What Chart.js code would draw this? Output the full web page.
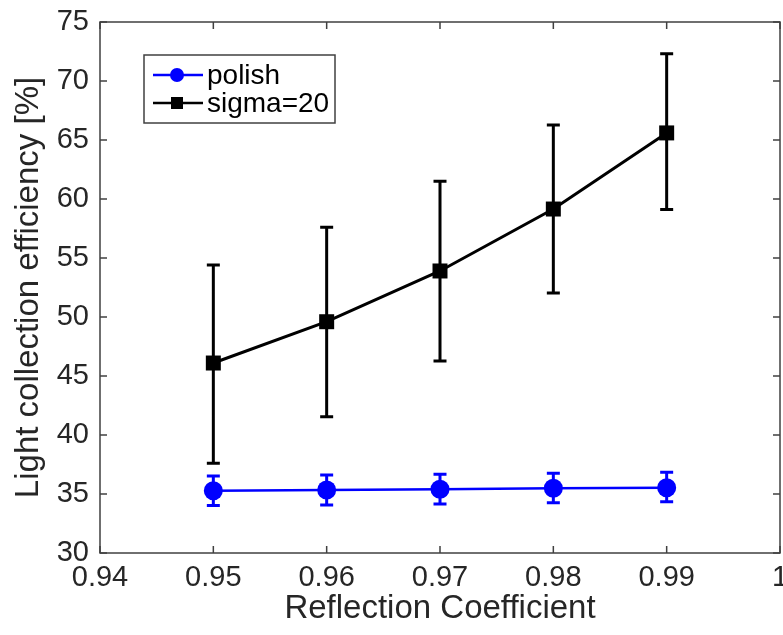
<!DOCTYPE html>
<html>
<head>
<meta charset="utf-8">
<script src="https://cdn.jsdelivr.net/npm/chart.js@4.4.0/dist/chart.umd.min.js"></script>
<style>
  html, body { margin: 0; padding: 0; background: #fff; }
  canvas { display: block; }
</style>
</head>
<body>
<canvas id="myChart" width="783" height="635"></canvas>
<script>
// values
var reflection = [0.95, 0.96, 0.97, 0.98, 0.99];
var polish = [35.28, 35.34, 35.40, 35.48, 35.53];
var polishLow = [34.03, 34.07, 34.15, 34.26, 34.35];
var polishHigh = [36.53, 36.61, 36.67, 36.75, 36.84];
var sigma20 = [46.1, 49.6, 53.9, 59.15, 65.6];
var sigma20Low = [37.6, 41.55, 46.27, 52.03, 59.1];
var sigma20High = [54.4, 57.6, 61.5, 66.27, 72.3];

var axisColor = '#404040';
var textColor = '#262626';
var fontFamily = "'Liberation Sans', Arial, Helvetica, sans-serif";

function toPoints(ys) {
  return reflection.map((x, i) => ({ x: x, y: ys[i] }));
}

// box round the plot with MATLAB style inward ticks
var frame = {
  id: 'frame',
  beforeDatasetsDraw(chart) {
    let ctx = chart.ctx;
    let a = chart.chartArea;
    let len = 7;
    ctx.save();
    ctx.strokeStyle = axisColor;
    ctx.lineWidth = 1.5;
    ctx.strokeRect(a.left, a.top, a.right - a.left, a.bottom - a.top);
    ctx.beginPath();
    chart.scales.x.ticks.forEach(t => {
      let px = chart.scales.x.getPixelForValue(t.value);
      ctx.moveTo(px, a.bottom); ctx.lineTo(px, a.bottom - len);
      ctx.moveTo(px, a.top); ctx.lineTo(px, a.top + len);
    });
    chart.scales.y.ticks.forEach(t => {
      let py = chart.scales.y.getPixelForValue(t.value);
      ctx.moveTo(a.left, py); ctx.lineTo(a.left + len, py);
      ctx.moveTo(a.right, py); ctx.lineTo(a.right - len, py);
    });
    ctx.stroke();
    ctx.restore();
  }
};

// vertical error bars with caps
var errorBars = {
  id: 'errorBars',
  beforeDatasetsDraw(chart) {
    let ctx = chart.ctx;
    let xs = chart.scales.x;
    let ys = chart.scales.y;
    chart.data.datasets.forEach(ds => {
      ctx.save();
      ctx.strokeStyle = ds.borderColor;
      ctx.lineWidth = 3;
      ctx.beginPath();
      ds.data.forEach((p, i) => {
        let x = xs.getPixelForValue(p.x);
        let y1 = ys.getPixelForValue(ds.low[i]);
        let y2 = ys.getPixelForValue(ds.high[i]);
        let cap = 6.5;
        ctx.moveTo(x, y1); ctx.lineTo(x, y2);
        ctx.moveTo(x - cap, y1); ctx.lineTo(x + cap, y1);
        ctx.moveTo(x - cap, y2); ctx.lineTo(x + cap, y2);
      });
      ctx.stroke();
      ctx.restore();
    });
  }
};

// legend box in the upper left of the plot
var boxLegend = {
  id: 'boxLegend',
  afterDraw(chart) {
    let ctx = chart.ctx;
    let left = 144, top = 55, w = 191, h = 68;
    ctx.save();
    ctx.fillStyle = '#fff';
    ctx.fillRect(left, top, w, h);
    ctx.strokeStyle = axisColor;
    ctx.lineWidth = 1.5;
    ctx.strokeRect(left, top, w, h);
    ctx.font = '28px ' + fontFamily;
    ctx.textBaseline = 'middle';
    chart.data.datasets.forEach((ds, i) => {
      let y = top + 20 + i * 28;
      ctx.strokeStyle = ds.borderColor;
      ctx.lineWidth = 2.5;
      ctx.beginPath();
      ctx.moveTo(153, y); ctx.lineTo(203, y);
      ctx.stroke();
      ctx.fillStyle = ds.borderColor;
      if (ds.pointStyle === 'circle') {
        ctx.beginPath();
        ctx.arc(177, y, 7, 0, Math.PI * 2);
        ctx.fill();
      } else {
        ctx.fillRect(171, y - 6, 12, 12);
      }
      ctx.fillStyle = '#000';
      ctx.fillText(ds.label, 207, y + 1);
    });
    ctx.restore();
  }
};

var ctx = document.getElementById('myChart').getContext('2d');

var chart = new Chart(ctx, {
  type: 'line',
  data: {
    datasets: [
      {
        label: 'polish',
        data: toPoints(polish),
        low: polishLow,
        high: polishHigh,
        borderColor: '#0000ff',
        backgroundColor: '#0000ff',
        borderWidth: 2.5,
        pointStyle: 'circle',
        pointRadius: 9.5,
        pointBorderWidth: 0,
        tension: 0
      },
      {
        label: 'sigma=20',
        data: toPoints(sigma20),
        low: sigma20Low,
        high: sigma20High,
        borderColor: '#000000',
        backgroundColor: '#000000',
        borderWidth: 3,
        pointStyle: 'rect',
        pointRadius: 10.6,
        pointBorderWidth: 0,
        tension: 0
      }
    ]
  },
  options: {
    responsive: false,
    animation: false,
    devicePixelRatio: 1,
    layout: { autoPadding: false, padding: { left: 0, right: 3, top: 22, bottom: 0 } },
    plugins: {
      legend: { display: false },
      tooltip: { enabled: false }
    },
    scales: {
      x: {
        type: 'linear',
        min: 0.94,
        max: 1,
        grid: { display: false, drawTicks: false },
        border: { display: false },
        ticks: {
          stepSize: 0.01,
          padding: 8,
          color: textColor,
          font: { family: fontFamily, size: 29 },
          maxRotation: 0,
          autoSkip: false,
          callback: v => String(Number(v.toFixed(2)))
        },
        title: {
          display: true,
          text: 'Reflection Coefficient',
          color: textColor,
          font: { family: fontFamily, size: 33 },
          padding: { top: 0, bottom: 6 }
        },
        afterFit: s => {
          s.height = 82;
          s.paddingLeft = 0;
          s.paddingRight = 0;
        }
      },
      y: {
        min: 30,
        max: 75,
        grid: { display: false, drawTicks: false },
        border: { display: false },
        ticks: {
          stepSize: 5,
          padding: 11,
          color: textColor,
          font: { family: fontFamily, size: 29 }
        },
        title: {
          display: true,
          text: 'Light collection efficiency [%]',
          color: textColor,
          font: { family: fontFamily, size: 33 },
          padding: { top: 9, bottom: 0 }
        },
        afterFit: s => {
          s.width = 100;
          s.paddingTop = 0;
          s.paddingBottom = 0;
        }
      }
    }
  },
  plugins: [frame, errorBars, boxLegend]
});
</script>
</body>
</html>
